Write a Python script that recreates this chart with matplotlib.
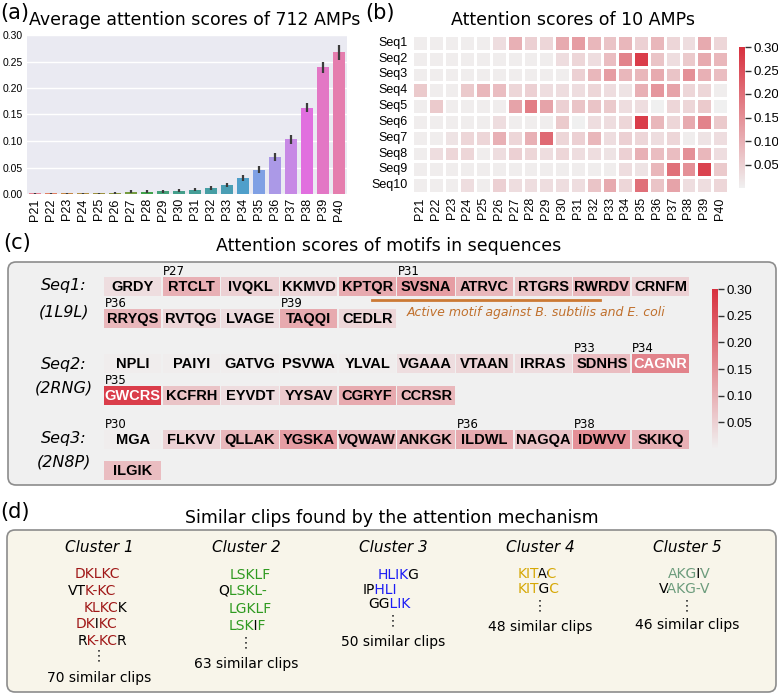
import numpy as np
import matplotlib
matplotlib.use('Agg')
import matplotlib.pyplot as plt
import seaborn as sns
from itertools import groupby
from matplotlib.colors import LinearSegmentedColormap, Normalize
from matplotlib.cm import ScalarMappable
from matplotlib.patches import FancyBboxPatch, Rectangle
from matplotlib.transforms import Bbox

# ---- data ----
positions = [f'P{i}' for i in range(21, 41)]
avg_scores = [0.001, 0.001, 0.001, 0.001, 0.001, 0.002, 0.004, 0.004, 0.005, 0.006,
              0.008, 0.011, 0.017, 0.030, 0.046, 0.070, 0.103, 0.163, 0.239, 0.267]
avg_err = [0.001, 0.001, 0.001, 0.001, 0.001, 0.002, 0.003, 0.003, 0.003, 0.003,
           0.003, 0.0035, 0.004, 0.005, 0.006, 0.007, 0.008, 0.0085, 0.010, 0.014]

seq_names = [f'Seq{i}' for i in range(1, 11)]
heat = [
    [0.005, 0.005, 0.005, 0.005, 0.005, 0.03, 0.10, 0.05, 0.04, 0.11, 0.13, 0.09, 0.07, 0.09, 0.05, 0.09, 0.04, 0.03, 0.11, 0.04],
    [0.005, 0.005, 0.005, 0.005, 0.005, 0.005, 0.005, 0.005, 0.005, 0.03, 0.04, 0.03, 0.08, 0.17, 0.28, 0.07, 0.03, 0.06, 0.11, 0.09],
    [0.005, 0.005, 0.005, 0.005, 0.005, 0.005, 0.005, 0.005, 0.005, 0.005, 0.05, 0.09, 0.13, 0.09, 0.09, 0.11, 0.07, 0.15, 0.10, 0.08],
    [0.06, 0.005, 0.005, 0.06, 0.09, 0.08, 0.04, 0.05, 0.03, 0.03, 0.03, 0.04, 0.03, 0.02, 0.10, 0.14, 0.12, 0.04, 0.04, 0.005],
    [0.005, 0.06, 0.005, 0.005, 0.005, 0.005, 0.12, 0.18, 0.12, 0.05, 0.07, 0.07, 0.06, 0.03, 0.03, 0.0, 0.04, 0.04, 0.06, 0.0],
    [0.005, 0.005, 0.005, 0.005, 0.005, 0.03, 0.005, 0.005, 0.005, 0.06, 0.0, 0.03, 0.03, 0.04, 0.28, 0.09, 0.04, 0.11, 0.17, 0.06],
    [0.005, 0.005, 0.02, 0.04, 0.04, 0.10, 0.04, 0.10, 0.21, 0.04, 0.05, 0.09, 0.03, 0.05, 0.04, 0.03, 0.04, 0.005, 0.02, 0.03],
    [0.005, 0.03, 0.04, 0.04, 0.005, 0.03, 0.05, 0.04, 0.03, 0.04, 0.03, 0.03, 0.02, 0.05, 0.10, 0.08, 0.08, 0.15, 0.09, 0.03],
    [0.005, 0.005, 0.005, 0.005, 0.005, 0.005, 0.005, 0.005, 0.005, 0.005, 0.005, 0.005, 0.005, 0.03, 0.02, 0.09, 0.20, 0.15, 0.27, 0.06],
    [0.005, 0.005, 0.005, 0.03, 0.005, 0.05, 0.03, 0.03, 0.03, 0.03, 0.03, 0.07, 0.11, 0.04, 0.20, 0.07, 0.12, 0.03, 0.03, 0.04],
]

# motifs of the first three sequences (one motif per position)
motifs = [
    ['GRDY', 'RTCLT', 'IVQKL', 'KKMVD', 'KPTQR', 'SVSNA', 'ATRVC', 'RTGRS', 'RWRDV', 'CRNFM',
     'RRYQS', 'RVTQG', 'LVAGE', 'TAQQI', 'CEDLR'],
    ['NPLI', 'PAIYI', 'GATVG', 'PSVWA', 'YLVAL', 'VGAAA', 'VTAAN', 'IRRAS', 'SDNHS', 'CAGNR',
     'GWCRS', 'KCFRH', 'EYVDT', 'YYSAV', 'CGRYF', 'CCRSR'],
    ['MGA', 'FLKVV', 'QLLAK', 'YGSKA', 'VQWAW', 'ANKGK', 'ILDWL', 'NAGQA', 'IDWVV', 'SKIKQ', 'ILGIK'],
]
motif_start = [26, 25, 30]
motif_marks = [['P27', 'P31', 'P36', 'P39'], ['P33', 'P34', 'P35'], ['P30', 'P36', 'P38']]
pdb_ids = ['(1L9L)', '(2RNG)', '(2N8P)']

cluster_names = ['Cluster 1', 'Cluster 2', 'Cluster 3', 'Cluster 4', 'Cluster 5']
cluster_clips = [
    [('DKLKC', '11111'), ('VTK-KC', '001111'), ('KLKCK', '11110'), ('DKIKC', '11011'), ('RK-KCR', '011110')],
    [('LSKLF', '11111'), ('QLSKL-', '011111'), ('LGKLF', '11111'), ('LSKIF', '11101')],
    [('HLIKG', '11110'), ('IPHLI', '00111'), ('GGLIK', '00111')],
    [('KITAC', '11101'), ('KITGC', '11101')],
    [('AKGIV', '11101'), ('VAKG-V', '011111')],
]
cluster_counts = [70, 63, 50, 48, 46]
cluster_colors = ['#a01818', '#2f9a20', '#1c1cf5', '#d6a806', '#6c9c7c']

# ---- layout (pixels) ----
W, H = 778, 694


def px_rect(x0, y0, x1, y1):
    return [x0 / W, 1 - y1 / H, (x1 - x0) / W, (y1 - y0) / H]


cmap = LinearSegmentedColormap.from_list('attn', ['#f0f0f0', '#d8303e'])
norm = Normalize(vmin=0.0, vmax=0.30)

fig = plt.figure(figsize=(W / 100, H / 100), dpi=100)

# overlay axes in pixel coordinates
ov = fig.add_axes([0, 0, 1, 1])
ov.set_xlim(0, W)
ov.set_ylim(H, 0)
ov.axis('off')

tick_font = 'Liberation Sans'

# ---- (a) bar chart ----
ax = fig.add_axes(px_rect(27, 35, 347, 194))
pal = [sns.desaturate(c, 0.75) for c in sns.color_palette('husl', len(positions))]
x = np.arange(len(positions))
ax.set_facecolor('#EAEAF2')
ax.bar(x, avg_scores, width=0.8, color=pal, zorder=2)
ax.errorbar(x, avg_scores, yerr=avg_err, fmt='none', ecolor='#3c3c3c', elinewidth=1.6, zorder=3)
ax.set_xlim(-0.5, len(positions) - 0.5)
ax.set_ylim(0, 0.30)
ax.set_yticks(np.arange(0, 0.31, 0.05))
ax.set_yticklabels([f'{v:.2f}' for v in np.arange(0, 0.31, 0.05)], fontsize=7.5, family=tick_font)
ax.set_xticks(x)
ax.set_xticklabels(positions, rotation=90, fontsize=9, family=tick_font)
ax.yaxis.grid(True, color='white', lw=1, zorder=0)
ax.set_axisbelow(True)
ax.tick_params(length=0, pad=3)
for s in ax.spines.values():
    s.set_visible(False)

ov.text(0, 13, '(a)', fontsize=15, va='center', ha='left')
ov.text(195, 20, 'Average attention scores of 712 AMPs', fontsize=12.5, va='center', ha='center')

# ---- (b) heatmap ----
hx = fig.add_axes(px_rect(412, 35, 728, 193))
cax = fig.add_axes(px_rect(739, 47, 745, 188))
sns.heatmap(np.array(heat), ax=hx, cbar_ax=cax, cmap=cmap, vmin=0.0, vmax=0.30,
            linewidths=1, linecolor='white', xticklabels=positions, yticklabels=seq_names)
hx.tick_params(length=0, pad=3)
hx.set_xticklabels(positions, rotation=90, fontsize=9, family=tick_font)
hx.set_yticklabels(seq_names, rotation=0, fontsize=9, family=tick_font)
cax.set_yticks([0.05, 0.10, 0.15, 0.20, 0.25, 0.30])
cax.set_yticklabels(['0.05', '0.10', '0.15', '0.20', '0.25', '0.30'], fontsize=9.5, family=tick_font)
cax.tick_params(length=4, width=1, color='#333333', pad=2)
for s in cax.spines.values():
    s.set_visible(False)

ov.text(365, 13, '(b)', fontsize=15, va='center', ha='left')
ov.text(573, 20, 'Attention scores of 10 AMPs', fontsize=12.5, va='center', ha='center')

# ---- (c) motifs ----
ov.text(3, 243, '(c)', fontsize=15, va='center', ha='left')
ov.text(389, 246, 'Attention scores of motifs in sequences', fontsize=12.5, va='center', ha='center')
ov.add_patch(FancyBboxPatch((8, 262), 768, 223, boxstyle='round,pad=0,rounding_size=8',
                            fc='#f0f0f0', ec='#8c8c8c', lw=1.2))

row_y = [(286, 318), (363, 395), (439, 470)]
label_y = [(285, 312), (364, 388), (438, 462)]
box_x0, box_step, box_w, box_h = 104, 58.65, 57.3, 19
for k, mlist in enumerate(motifs):
    ov.text(64, label_y[k][0], f'Seq{k + 1}:', fontsize=11.5, style='italic', ha='center', va='center')
    ov.text(64, label_y[k][1], pdb_ids[k], fontsize=11.5, style='italic', ha='center', va='center')
    for i, m in enumerate(mlist):
        pos = motif_start[k] + i
        v = heat[k][pos - 21]
        bx = box_x0 + (i % 10) * box_step
        by = row_y[k][i // 10]
        ov.add_patch(Rectangle((bx, by - box_h / 2), box_w, box_h, fc=cmap(norm(v)), ec='none'))
        ov.text(bx + box_w / 2, by + 0.5, m, fontsize=10.5, weight='bold', family=tick_font,
                color='white' if v > 0.165 else 'black', ha='center', va='center')
        if f'P{pos}' in motif_marks[k]:
            ov.text(bx + 0.5, by - 15, f'P{pos}', fontsize=8.5, ha='left', va='center')

ov.plot([372, 600], [300, 300], color='#cc7a35', lw=2)
ov.text(407, 312, 'Active motif against B. subtilis and E. coli', fontsize=9, style='italic',
        color='#c0702c', ha='left', va='center')

ccax = fig.add_axes(px_rect(712, 289, 718, 449))
cb = fig.colorbar(ScalarMappable(norm=norm, cmap=cmap), cax=ccax)
cb.outline.set_visible(False)
cb.set_ticks([0.05, 0.10, 0.15, 0.20, 0.25, 0.30])
cb.set_ticklabels(['0.05', '0.10', '0.15', '0.20', '0.25', '0.30'])
ccax.tick_params(length=4, width=1, color='#333333', pad=2, labelsize=9.5)
for t in ccax.get_yticklabels():
    t.set_family(tick_font)

# ---- (d) clusters ----
ov.text(0, 512, '(d)', fontsize=15, va='center', ha='left')
ov.text(392, 518, 'Similar clips found by the attention mechanism', fontsize=12.5, va='center', ha='center')
ov.add_patch(FancyBboxPatch((7, 530), 769, 162, boxstyle='round,pad=0,rounding_size=8',
                            fc='#f8f5ea', ec='#8c8c8c', lw=1.2))

cluster_cx = [99, 246, 393, 540, 687]
clip_x = [[75, 68, 84, 76, 78], [230, 218, 229, 229], [378, 363, 368], [518, 518], [668, 659]]
clip_y = [[574, 591, 608, 624, 641], [575, 591, 609, 626], [575, 590, 604], [574, 589], [574, 589]]
dots_y = [(650, 665), (637, 652), (615, 630), (600, 615), (600, 614)]
count_y = [678, 664, 642, 627, 625]

renderer = fig.canvas.get_renderer()


def ink_width(s):
    t = ov.text(0, 0, s, fontsize=10)
    w = t.get_window_extent(renderer).width
    t.remove()
    return w


def char_bounds(seq, x0):
    # x positions between neighbouring glyphs of the whole string
    b = [x0 - 6]
    for i in range(1, len(seq)):
        right = ink_width(seq[:i])
        left = ink_width(seq[:i + 1]) - ink_width(seq[i])
        b.append(x0 + (right + left) / 2)
    b.append(x0 + ink_width(seq) + 6)
    return b


for c, clips in enumerate(cluster_clips):
    ov.text(cluster_cx[c], 548, cluster_names[c], fontsize=11, style='italic', ha='center', va='center')
    for j, (seq, mask) in enumerate(clips):
        x0, y0 = clip_x[c][j], clip_y[c][j]
        bounds = char_bounds(seq, x0)
        i0 = 0
        for flag, grp in groupby(mask):
            n = len(list(grp))
            xa = ov.transData.transform((bounds[i0], 0))[0]
            xb = ov.transData.transform((bounds[i0 + n], 0))[0]
            i0 += n
            t = ov.text(x0, y0, seq, fontsize=10, ha='left', va='center', clip_on=True,
                        color=cluster_colors[c] if flag == '1' else 'black')
            t.set_clip_box(Bbox.from_extents(xa, 0, xb, H * 10))
    ov.plot([cluster_cx[c], cluster_cx[c]], dots_y[c], color='#333333', lw=1.2, ls=(0, (1, 2)))
    ov.text(cluster_cx[c], count_y[c], f'{cluster_counts[c]} similar clips', fontsize=10,
            ha='center', va='center')

fig.savefig('out.png', dpi=100)
